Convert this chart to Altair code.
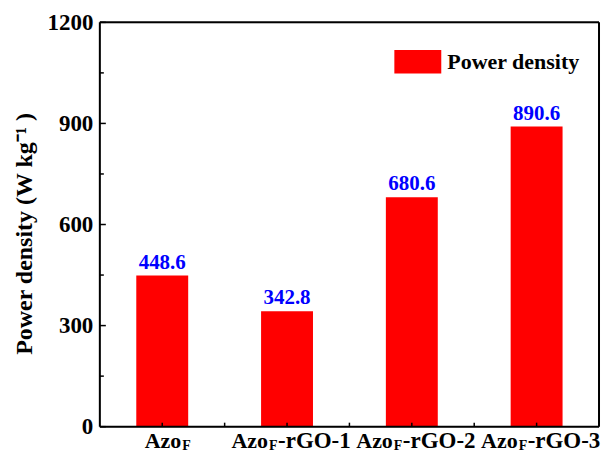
import altair as alt
import pandas as pd

# ---------------- data ----------------
cats = ["AzoF", "AzoF-rGO-1", "AzoF-rGO-2", "AzoF-rGO-3"]
values = [448.6, 342.8, 680.6, 890.6]
value_labels = ["448.6", "342.8", "680.6", "890.6"]
label_base = ["Azo", "Azo", "Azo", "Azo"]
label_sub = ["F", "F", "F", "F"]
label_suffix = ["", "-rGO-1", "-rGO-2", "-rGO-3"]
series_name = "Power density"
y_major = [0, 300, 600, 900, 1200]
y_minor = [150, 450, 750, 1050]
x_major = [0.5, 1.5, 2.5, 3.5]
x_minor = [1, 2, 3]
y_frame = [0, 1200]

W, H = 500, 405
FONT = "Times New Roman, Liberation Serif, serif"
TITLE = "Power density (W kg\u207b\u00b9 )"

df = pd.DataFrame({
    "cat": cats,
    "value": values,
    "vlabel": value_labels,
    "base": label_base,
    "sub": label_sub,
    "suffix": label_suffix,
    "series": [series_name] * len(cats),
})

xs = alt.X("cat:N", sort=cats,
           scale=alt.Scale(domain=cats, paddingInner=0.584, paddingOuter=0.292),
           axis=None)
yscale = alt.Scale(domain=[0, 1200], nice=False)
xq = alt.Scale(domain=[0, 4], nice=False, zero=False)

bars = alt.Chart(df).mark_bar().encode(
    x=xs,
    y=alt.Y("value:Q", scale=yscale,
            axis=alt.Axis(values=y_major, format="d", ticks=False, domain=False,
                          grid=False,
                          title=TITLE, labelFont=FONT, labelFontSize=23,
                          labelFontWeight="bold", labelColor="black",
                          labelPadding=7, titleFont=FONT, titleFontSize=24,
                          titleFontWeight="bold", titleColor="black",
                          titlePadding=10, titleY=H / 2 + 9)),
    color=alt.Color("series:N",
                    scale=alt.Scale(domain=[series_name], range=["#ff0000"]),
                    legend=alt.Legend(orient="none", legendX=295, legendY=16,
                                      title=None,
                                      symbolType="M-1,-0.5H1V0.5H-1Z",
                                      symbolSize=2209, symbolStrokeWidth=0,
                                      symbolOpacity=1,
                                      labelFont=FONT, labelFontSize=22,
                                      labelFontWeight="bold", labelColor="black",
                                      labelOffset=6, padding=0)),
)

bar_text = alt.Chart(df).mark_text(
    dy=-3, baseline="bottom", font=FONT, fontSize=21, fontWeight="bold",
    color="#0000ff"
).encode(x=xs, y=alt.Y("value:Q", scale=yscale), text="vlabel:N")

ymaj = alt.Chart(pd.DataFrame({"value": y_major})).mark_rule(
    color="black", strokeWidth=1.5
).encode(y=alt.Y("value:Q", scale=yscale), x=alt.value(0), x2=alt.value(6))

ymin = alt.Chart(pd.DataFrame({"value": y_minor})).mark_rule(
    color="black", strokeWidth=1.5
).encode(y=alt.Y("value:Q", scale=yscale), x=alt.value(0), x2=alt.value(4))

xt = alt.Chart(pd.DataFrame({"p": x_major + x_minor})).mark_rule(
    color="black", strokeWidth=1.5
).encode(x=alt.X("p:Q", scale=xq, axis=None),
         y=alt.value(H), y2=alt.value(H - 4))

# frame around the plot area
frame_h = alt.Chart(pd.DataFrame({"value": y_frame})).mark_rule(
    color="black", strokeWidth=2
).encode(y=alt.Y("value:Q", scale=yscale), x=alt.value(0), x2=alt.value(W))
frame_l = alt.Chart(pd.DataFrame({"value": [0]})).mark_rule(
    color="black", strokeWidth=2
).encode(x=alt.value(0), y=alt.value(0), y2=alt.value(H))
frame_r = alt.Chart(pd.DataFrame({"value": [0]})).mark_rule(
    color="black", strokeWidth=2
).encode(x=alt.value(W), y=alt.value(0), y2=alt.value(H))

first = alt.Chart(df).transform_filter(alt.datum.cat == cats[0])
rest = alt.Chart(df).transform_filter(alt.datum.cat != cats[0])

BASE_Y = H + 21
SUB_Y = H + 23
common = dict(font=FONT, fontWeight="bold", color="black", baseline="alphabetic")

lab1_base = first.mark_text(align="right", dx=19, fontSize=22, **common).encode(
    x=xs, y=alt.value(BASE_Y), text="base:N")
lab1_sub = first.mark_text(align="left", dx=20, fontSize=14, **common).encode(
    x=xs, y=alt.value(SUB_Y), text="sub:N")
lab_base = rest.mark_text(align="right", dx=-19, fontSize=22, **common).encode(
    x=xs, y=alt.value(BASE_Y), text="base:N")
lab_sub = rest.mark_text(align="left", dx=-18, fontSize=14, **common).encode(
    x=xs, y=alt.value(SUB_Y), text="sub:N")
lab_suf = rest.mark_text(align="left", dx=-9, fontSize=23, **common).encode(
    x=xs, y=alt.value(BASE_Y), text="suffix:N")

chart = alt.layer(
    bars, bar_text, ymaj, ymin, xt, frame_h, frame_l, frame_r,
    lab1_base, lab1_sub, lab_base, lab_sub, lab_suf
).resolve_scale(x="independent").properties(
    width=W, height=H,
    padding={"left": 5, "top": 3, "right": 2, "bottom": 0},
).configure_view(strokeWidth=0).configure(background="white")

chart.save("out.html", embed_options={"renderer": "svg", "actions": False})
